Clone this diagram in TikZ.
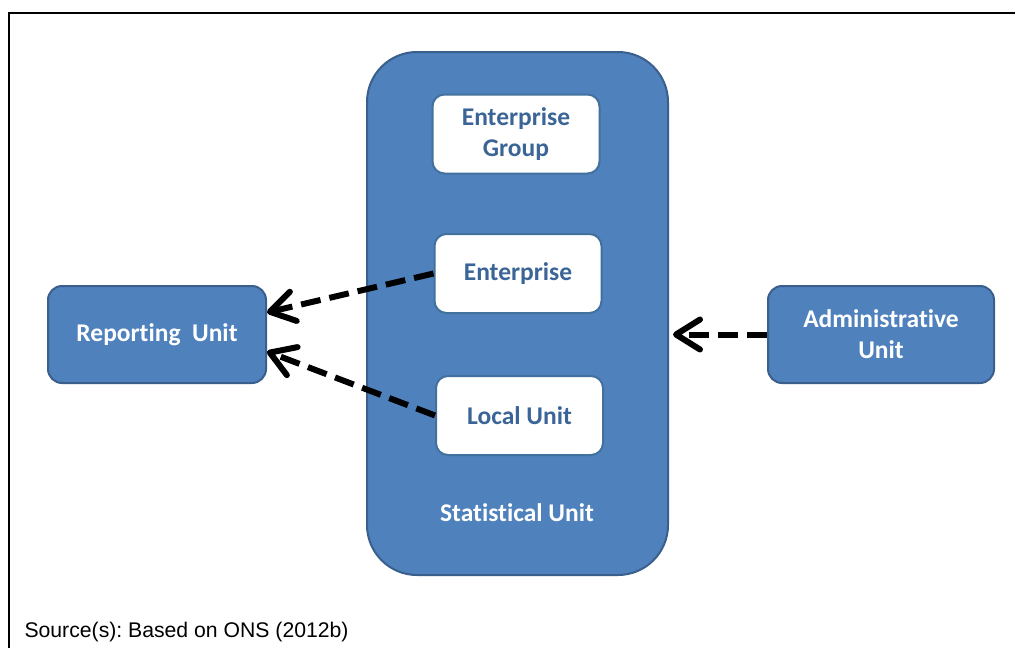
\documentclass[tikz,border=0pt]{standalone}
\usepackage{fontspec}
\setmainfont[Ligatures=NoCommon]{Carlito}
\newfontfamily\srcfont{Liberation Sans}
\usetikzlibrary{arrows.meta}
\definecolor{unitblue}{HTML}{4F81BD}
\definecolor{unitedge}{HTML}{3A5F8C}
\definecolor{boxedge}{HTML}{41719C}
\definecolor{boxtext}{HTML}{3A6596}
\frenchspacing

\begin{document}
\begin{tikzpicture}[x=1pt,y=-1pt,
  bluebox/.style={draw=unitedge,fill=unitblue,line width=2pt,rounded corners=14pt,
    minimum width=218pt,minimum height=97pt,align=center,text=white,
    font=\bfseries\fontsize{25.5}{31}\selectfont},
  whitebox/.style={draw=boxedge,fill=white,line width=2pt,rounded corners=12pt,
    minimum width=167pt,minimum height=79pt,align=center,text=boxtext,
    font=\bfseries\fontsize{25.5}{31}\selectfont},
  link/.style={line width=6pt,dash pattern=on 20pt off 9pt,
    -{Straight Barb[length=24pt,width=30pt,line cap=round,line join=round]}}]
\useasboundingbox (0,0) rectangle (1015,648);
% frame
\draw [line width=2pt] (8.5,648) -- (8.5,12.5) -- (1015,12.5);
% statistical unit
\node [draw=unitedge,fill=unitblue,line width=2pt,rounded corners=50pt,
  minimum width=301pt,minimum height=523pt] (stat) at (517.5,313.5) {};
\node [text=white,font=\bfseries\fontsize{25.5}{31}\selectfont] (statlbl) at (517,513) {Statistical Unit};
\node [whitebox] (group) at (516,134) {Enterprise\\Group};
\node [whitebox] (ent) at (518,273.5) {Enterprise};
\node [whitebox] (local) at (519.5,415.5) {Local Unit};
% outer units
\node [bluebox] (report) at (157,334.5) {Reporting~~Unit};
\node [bluebox,minimum width=226pt] (admin) at (881,334.5) {Administrative\\Unit};
% arrows
\draw [link] (ent.west) -- ([yshift=22pt]report.east);
\draw [link] (local.west) -- ([yshift=-17pt]report.east);
\draw [link] (admin.west) -- ([xshift=4pt]stat.east |- admin.west);
% source
\node [anchor=base west,font=\srcfont\fontsize{21.2}{25}\selectfont] (src) at (21,637) {Source(s): Based on ONS (2012b)};
\end{tikzpicture}
\end{document}
